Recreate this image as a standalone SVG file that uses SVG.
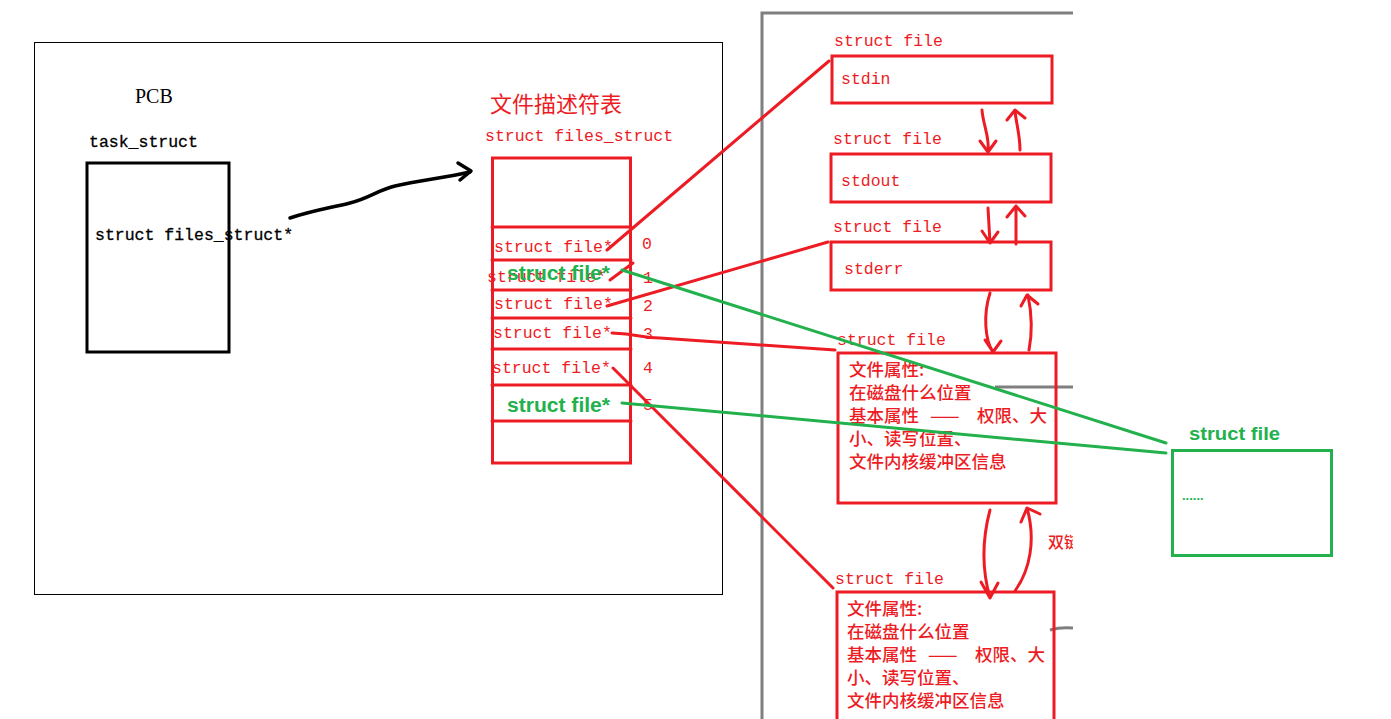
<svg xmlns="http://www.w3.org/2000/svg" width="1391" height="719" viewBox="0 0 1391 719">
<style>
.mono{font-family:"Liberation Mono","DejaVu Sans Mono",monospace;font-size:16.5px}
.red{fill:#ed1c24}
.blk{fill:#000}
.cjk{font-family:"Noto Sans CJK SC","Noto Sans",sans-serif;font-size:17.5px;font-weight:500;fill:#ed1c24}
.gtxt{font-family:"Liberation Sans","Noto Sans",sans-serif;font-weight:bold;fill:#22b14c}
.rbox{fill:none;stroke:#ed1c24;stroke-width:3}
.gbox{fill:none;stroke:#22b14c;stroke-width:3}
.rl{fill:none;stroke:#ed1c24;stroke-width:3;stroke-linecap:round;stroke-linejoin:round}
.gl{fill:none;stroke:#22b14c;stroke-width:3;stroke-linecap:round}
.gray{fill:none;stroke:#7f7f7f;stroke-width:3}
</style>
<defs>
<clipPath id="clipR"><rect x="0" y="0" width="1073" height="719"/></clipPath>
</defs>
<rect width="1391" height="719" fill="#fff"/>

<g id="gray-frame">
<path class="gray" d="M762,719 V13 H1073"/>
<path class="gray" d="M995,387 H1073"/>
<path class="gray" d="M1050,630 Q1060,627 1073,628"/>
</g>

<g id="pcb">
<rect x="34.5" y="42.5" width="688" height="552" fill="none" stroke="#000" stroke-width="1"/>
<text x="135" y="103" font-family="Liberation Serif,serif" font-size="20" class="blk">PCB</text>
<text x="89" y="147" class="mono blk" stroke="#000" stroke-width="0.3">task_struct</text>
<rect x="87" y="163" width="142" height="189" fill="none" stroke="#000" stroke-width="3"/>
<text x="95" y="240" class="mono blk" stroke="#000" stroke-width="0.3">struct files_struct*</text>
</g>

<g id="files-table">
<text x="490" y="112" font-family="Noto Sans CJK SC,sans-serif" font-size="22" class="red">文件描述符表</text>
<text x="485" y="141" class="mono red">struct files_struct</text>
<rect class="rbox" x="492.5" y="158" width="138" height="305"/>
<path class="rl" d="M492,227 H631 M492,260 H631 M492,290 H631 M492,318 H631 M492,349 H631 M492,385 H631 M492,421 H631"/>
<text x="494" y="252" class="mono red">struct file*</text>
<text x="487" y="282" class="mono red">struct file*</text>
<text x="507" y="280" class="gtxt" font-size="20" textLength="103" lengthAdjust="spacingAndGlyphs">struct file*</text>
<text x="494" y="309" class="mono red">struct file*</text>
<text x="493" y="338" class="mono red">struct file*</text>
<text x="492" y="373" class="mono red">struct file*</text>
<text x="507" y="412" class="gtxt" font-size="20" textLength="103" lengthAdjust="spacingAndGlyphs">struct file*</text>
<text x="642" y="249" class="mono red">0</text>
<text x="643" y="283" class="mono red">1</text>
<text x="643" y="311" class="mono red">2</text>
<text x="643" y="339" class="mono red">3</text>
<text x="643" y="373" class="mono red">4</text>
<text x="643" y="410" class="mono red">5</text>
</g>

<g id="stdin">
<text x="834" y="46" class="mono red">struct file</text>
<rect class="rbox" x="832" y="56" width="220" height="47"/>
<text x="841" y="84" class="mono red">stdin</text>
</g>
<g id="stdout">
<text x="833" y="144" class="mono red">struct file</text>
<rect class="rbox" x="831" y="154" width="220" height="48"/>
<text x="841" y="186" class="mono red">stdout</text>
</g>
<g id="stderr">
<text x="833" y="232" class="mono red">struct file</text>
<rect class="rbox" x="831" y="242" width="220" height="48"/>
<text x="844" y="274" class="mono red">stderr</text>
</g>

<g id="file4">
<text x="837" y="345" class="mono red">struct file</text>
<rect class="rbox" x="838" y="353" width="218" height="150"/>
<text class="cjk" x="849" y="376">文件属性:</text>
<text class="cjk" x="849" y="399">在磁盘什么位置</text>
<text class="cjk" y="422"><tspan x="849">基本属性</tspan><tspan x="930">——</tspan><tspan x="977">权限、大</tspan></text>
<text class="cjk" x="849" y="445">小、读写位置、</text>
<text class="cjk" x="849" y="468">文件内核缓冲区信息</text>
</g>

<g id="file5">
<text x="835" y="584" class="mono red">struct file</text>
<path class="rbox" d="M837,719 V592 H1054 V719"/>
<text class="cjk" x="847" y="615">文件属性:</text>
<text class="cjk" x="847" y="638">在磁盘什么位置</text>
<text class="cjk" y="661"><tspan x="847">基本属性</tspan><tspan x="928">——</tspan><tspan x="975">权限、大</tspan></text>
<text class="cjk" x="847" y="684">小、读写位置、</text>
<text class="cjk" x="847" y="707">文件内核缓冲区信息</text>
</g>

<g id="green-file">
<text x="1189" y="440" class="gtxt" font-size="18" font-weight="normal" textLength="91" lengthAdjust="spacingAndGlyphs">struct file</text>
<rect class="gbox" x="1172.5" y="450.5" width="159" height="105"/>
<text x="1182" y="500" font-family="Liberation Sans,sans-serif" font-size="13" font-weight="bold" fill="#22b14c">......</text>
</g>

<g id="label-dll">
<text x="1048" y="548" clip-path="url(#clipR)" font-family="Noto Sans CJK SC,sans-serif" font-size="16" font-weight="500" class="red">双链表</text>
</g>

<g id="connectors">
<path d="M290,218 C315,210 330,208 350,203 C370,198 378,190 395,186 C420,180 445,178 470,172" fill="none" stroke="#000" stroke-width="3.5" stroke-linecap="round"/>
<path d="M458,163 L471,171 L460,180" fill="none" stroke="#000" stroke-width="3.5" stroke-linecap="round" stroke-linejoin="round"/>

<path class="rl" d="M607,250 L829,61"/>
<path class="rl" d="M610,280 L633,263"/>
<path class="rl" d="M607,306 L828,242"/>
<path class="rl" d="M612,333 C640,334 640,338 660,338 L835,350"/>
<path class="rl" d="M613,368 L833,588"/>

<path class="gl" d="M622,270 L1166,443"/>
<path class="gl" d="M622,403 L1166,453"/>

<path class="rl" d="M982,110 C983,125 990,137 988,152 M980,141 L988,152 L996,141"/>
<path class="rl" d="M1020,150 C1020,135 1016,122 1015,111 M1007,120 L1015,110 L1025,118"/>
<path class="rl" d="M988,208 L990,243 M982,231 L990,243 L998,232"/>
<path class="rl" d="M1016,244 L1016,206 M1007,217 L1016,206 L1025,216"/>
<path class="rl" d="M990,293 C983,315 985,340 993,352 M985,340 L993,352 L1001,341"/>
<path class="rl" d="M1029,350 C1033,330 1031,310 1028,295 M1021,306 L1027,295 L1038,304"/>
<path class="rl" d="M990,510 C982,540 982,570 990,598 M981,582 L990,598 L998,583"/>
<path class="rl" d="M1015,591 C1030,570 1036,540 1027,508 M1021,522 L1027,508 L1040,514"/>
</g>
</svg>
